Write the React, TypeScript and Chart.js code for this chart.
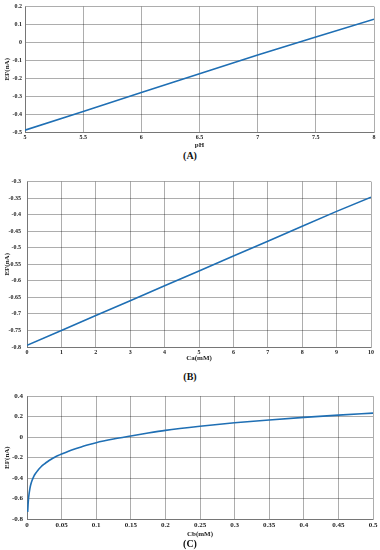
import React, { useEffect, useRef } from "react";
import { Chart, registerables } from "chart.js";
Chart.register(...registerables);

// Panel A: EF vs pH
const phValues = [5, 5.5, 6, 6.5, 7, 7.5, 8];
const efA = [-0.49, -0.385, -0.28, -0.175, -0.07, 0.03, 0.13];

// Panel B: EF vs Ca
const caValues = [0, 1, 2, 3, 4, 5, 6, 7, 8, 9, 10];
const efB = [-0.795, -0.75, -0.705, -0.66, -0.615, -0.57, -0.525, -0.48, -0.435, -0.39, -0.347];

// Panel C: EF vs Cb
const cbValues = [0.001, 0.0015, 0.002, 0.003, 0.004, 0.005, 0.0075, 0.01, 0.0125, 0.015, 0.02, 0.025, 0.03, 0.035, 0.04, 0.045, 0.05, 0.06, 0.07, 0.08, 0.09, 0.1, 0.125, 0.15, 0.175, 0.2, 0.25, 0.3, 0.35, 0.4, 0.45, 0.5];
const efC = [-0.73, -0.665, -0.615, -0.555, -0.51, -0.475, -0.42, -0.38, -0.353, -0.33, -0.292, -0.263, -0.238, -0.216, -0.197, -0.18, -0.165, -0.137, -0.113, -0.092, -0.072, -0.054, -0.019, 0.011, 0.04, 0.066, 0.106, 0.14, 0.168, 0.193, 0.215, 0.235];

const LINE = "#1f6fb4";
const GRID = "rgba(0,0,0,0.32)";
const FONT = "'Liberation Serif', 'DejaVu Serif', serif";

type PanelProps = {
  top: number; height: number; padTop: number; padRight: number;
  yW: number; xH: number; yPad: number; tickSize: number;
  xs: number[]; ys: number[];
  xMin: number; xMax: number; xStep: number;
  yMin: number; yMax: number; yStep: number;
  xTitle: string; yTitle: string; smooth?: boolean;
};

const fmt = (v: number | string) => String(Math.round(Number(v) * 1000) / 1000);

function Panel(p: PanelProps) {
  const ref = useRef<HTMLCanvasElement | null>(null);
  useEffect(() => {
    if (!ref.current) return;
    const data = p.xs.map((x, i) => ({ x, y: p.ys[i] }));
    const tickFont = { family: FONT, size: p.tickSize, weight: "bold" as const };
    const titleFont = { family: FONT, size: 7, weight: "bold" as const };
    const chart = new Chart(ref.current, {
      type: "line",
      data: {
        datasets: [{
          data,
          borderColor: LINE,
          borderWidth: 1.6,
          pointRadius: 0,
          tension: p.smooth ? 0.4 : 0,
          cubicInterpolationMode: p.smooth ? "monotone" : "default",
          fill: false,
        }],
      },
      options: {
        animation: false,
        responsive: false,
        maintainAspectRatio: false,
        layout: { padding: { top: p.padTop, right: p.padRight, bottom: 0, left: 0 } },
        plugins: { legend: { display: false }, tooltip: { enabled: false } },
        scales: {
          x: {
            type: "linear", min: p.xMin, max: p.xMax,
            ticks: { stepSize: p.xStep, callback: fmt, font: tickFont, color: "#222", padding: 2, maxRotation: 0, autoSkip: false },
            grid: { color: GRID, drawTicks: false },
            border: { color: GRID },
            title: { display: true, text: p.xTitle, font: titleFont, color: "#222", padding: 0 },
            afterFit: (s: any) => { s.height = p.xH; },
          },
          y: {
            type: "linear", min: p.yMin, max: p.yMax,
            ticks: { stepSize: p.yStep, callback: fmt, font: tickFont, color: "#222", padding: p.yPad, autoSkip: false },
            grid: { color: GRID, drawTicks: false },
            border: { color: GRID },
            title: { display: true, text: p.yTitle, font: titleFont, color: "#222", padding: { top: 3, bottom: 0 } },
            afterFit: (s: any) => { s.width = p.yW; },
          },
        },
      },
    } as any);
    return () => chart.destroy();
  }, []);
  return (
    <canvas ref={ref} width={380} height={p.height}
      style={{ position: "absolute", left: 0, top: p.top, width: 380, height: p.height }} />
  );
}

const labelStyle = (top: number): React.CSSProperties => ({
  position: "absolute", left: 0, width: 380, top: top - 7, height: 14, lineHeight: "14px",
  textAlign: "center", fontFamily: FONT, fontWeight: "bold", fontSize: 10, color: "#111",
});

export default function App() {
  return (
    <div style={{ position: "absolute", left: 0, top: 0, width: 380, height: 550, background: "#fff", overflow: "hidden" }}>
      <Panel top={0} height={149} padTop={5} padRight={6} yW={25} xH={17} yPad={3} tickSize={6}
        xs={phValues} ys={efA} xMin={5} xMax={8} xStep={0.5} yMin={-0.5} yMax={0.2} yStep={0.1}
        xTitle="pH" yTitle="EF(nA)" />
      <div style={labelStyle(156)}>(A)</div>
      <Panel top={172} height={190} padTop={5} padRight={9} yW={27} xH={15} yPad={6} tickSize={6}
        xs={caValues} ys={efB} xMin={0} xMax={10} xStep={1} yMin={-0.8} yMax={-0.3} yStep={0.05}
        xTitle="Ca(mM)" yTitle="EF(nA)" />
      <div style={labelStyle(377)}>(B)</div>
      <Panel top={388} height={150} padTop={5} padRight={7} yW={27} xH={19} yPad={4} tickSize={7}
        xs={cbValues} ys={efC} xMin={0} xMax={0.5} xStep={0.05} yMin={-0.8} yMax={0.4} yStep={0.2}
        xTitle="Cb(mM)" yTitle="EF(nA)" smooth />
      <div style={labelStyle(544)}>(C)</div>
    </div>
  );
}
